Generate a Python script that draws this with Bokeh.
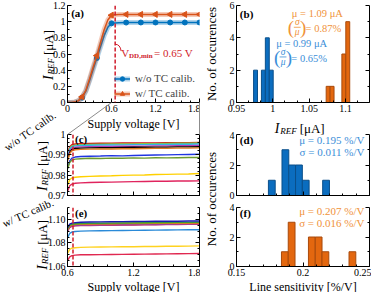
import math
from bokeh.plotting import figure
from bokeh.models import (Range1d, LinearAxis, FixedTicker, CustomJSTickFormatter,
                          Label, Span, Legend, LegendItem)
from bokeh.layouts import row, column
from bokeh.embed import file_html
from bokeh.resources import INLINE

SERIF = "Liberation Serif"
BLUE = "#0072BD"
ORANGE = "#D95319"
BAR_BLUE = "#0B6DBF"
BAR_BLUE_EDGE = "#0A4F8A"
BAR_ORANGE = "#E3670F"
BAR_ORANGE_EDGE = "#A84A0C"
RED = "#D01C2B"
TXT_BLUE = "#3B8ED8"
TXT_ORANGE = "#F0923A"
GREY = "#8C8C8C"

# ---------------- data ----------------
# (a) mean reference current vs supply voltage
v_a = [0.0, 0.05, 0.10, 0.15, 0.20, 0.25, 0.30, 0.35, 0.40, 0.45, 0.50, 0.55,
       0.60, 0.65, 0.70, 0.80, 1.00, 1.20, 1.40, 1.60, 1.80]
i_wo = [0.0, 0.0, 0.004, 0.02, 0.06, 0.14, 0.27, 0.41, 0.55, 0.69, 0.83, 0.93,
        0.98, 0.984, 0.987, 0.989, 0.99, 0.99, 0.99, 0.99, 0.99]
i_w = [0.0, 0.0, 0.005, 0.023, 0.07, 0.15, 0.29, 0.44, 0.58, 0.74, 0.90, 1.02,
       1.08, 1.085, 1.088, 1.09, 1.09, 1.09, 1.09, 1.09, 1.09]
v_mk = [0.2, 0.4, 0.6, 0.8, 1.0, 1.2, 1.4, 1.6, 1.8]
i_wo_mk = [0.06, 0.55, 0.98, 0.989, 0.99, 0.99, 0.99, 0.99, 0.99]
i_w_mk = [0.07, 0.58, 1.08, 1.09, 1.09, 1.09, 1.09, 1.09, 1.09]
v_ddmin = 0.65

# (b) histogram of I_REF [uA]
bin_w_b = 0.0054
b_wo_left = [0.9735, 0.9843, 0.9897, 0.9951]
b_wo_cnt = [2, 2, 4, 2]
b_w_left = [1.0734, 1.0788, 1.0950, 1.1004]
b_w_cnt = [1, 1, 3, 5]

# (c) / (e) per-chip I_REF vs supply voltage
v_z = [0.60, 0.62, 0.64, 0.67, 0.72, 0.80, 0.90, 1.00, 1.10, 1.20, 1.30, 1.40, 1.50, 1.60, 1.70, 1.80]
c_series = [
    ("#CC1414", [0.9905, 0.9940, 0.9950, 0.9953, 0.9955, 0.9956, 0.9957, 0.9957, 0.9958, 0.9958, 0.9959, 0.9959, 0.9960, 0.9960, 0.9960, 0.9961]),
    ("#8CC63F", [0.9895, 0.9932, 0.9944, 0.9948, 0.9950, 0.9951, 0.9952, 0.9953, 0.9953, 0.9954, 0.9955, 0.9955, 0.9956, 0.9957, 0.9957, 0.9958]),
    ("#2FB4E6", [0.9890, 0.9928, 0.9940, 0.9944, 0.9946, 0.9947, 0.9948, 0.9948, 0.9949, 0.9950, 0.9950, 0.9951, 0.9951, 0.9952, 0.9952, 0.9953]),
    ("#B23AB8", [0.9880, 0.9918, 0.9932, 0.9937, 0.9939, 0.9940, 0.9941, 0.9941, 0.9942, 0.9942, 0.9943, 0.9944, 0.9944, 0.9945, 0.9945, 0.9946]),
    ("#000000", [0.9875, 0.9912, 0.9926, 0.9931, 0.9933, 0.9934, 0.9935, 0.9935, 0.9936, 0.9937, 0.9937, 0.9938, 0.9938, 0.9939, 0.9939, 0.9940]),
    ("#E07A1F", [0.9870, 0.9906, 0.9920, 0.9925, 0.9927, 0.9928, 0.9929, 0.9929, 0.9930, 0.9930, 0.9931, 0.9932, 0.9932, 0.9933, 0.9933, 0.9934]),
    ("#1F35E0", [0.9835, 0.9870, 0.9884, 0.9889, 0.9892, 0.9893, 0.9894, 0.9896, 0.9895, 0.9897, 0.9898, 0.9899, 0.9900, 0.9901, 0.9902, 0.9903]),
    ("#6B9A2E", [0.9830, 0.9862, 0.9874, 0.9879, 0.9881, 0.9883, 0.9882, 0.9884, 0.9883, 0.9885, 0.9884, 0.9886, 0.9885, 0.9886, 0.9887, 0.9887]),
    ("#FFD000", [0.9750, 0.9778, 0.9786, 0.9790, 0.9792, 0.9794, 0.9796, 0.9797, 0.9799, 0.9800, 0.9801, 0.9803, 0.9804, 0.9805, 0.9806, 0.9808]),
    ("#E0245E", [0.9720, 0.9748, 0.9756, 0.9760, 0.9762, 0.9764, 0.9765, 0.9766, 0.9767, 0.9768, 0.9769, 0.9770, 0.9770, 0.9771, 0.9771, 0.9772]),
]
e_series = [
    ("#7E2F8E", [1.0902, 1.0933, 1.0942, 1.0946, 1.0949, 1.0950, 1.0951, 1.0952, 1.0953, 1.0954, 1.0955, 1.0956, 1.0957, 1.0958, 1.0959, 1.0960]),
    ("#C23B73", [1.0900, 1.0931, 1.0940, 1.0944, 1.0947, 1.0948, 1.0949, 1.0950, 1.0951, 1.0952, 1.0953, 1.0954, 1.0955, 1.0956, 1.0957, 1.0958]),
    ("#9B3AA8", [1.0905, 1.0936, 1.0945, 1.0949, 1.0952, 1.0953, 1.0954, 1.0955, 1.0956, 1.0957, 1.0958, 1.0959, 1.0960, 1.0961, 1.0962, 1.0963]),
    ("#E8701A", [1.0912, 1.0943, 1.0952, 1.0956, 1.0959, 1.0960, 1.0961, 1.0962, 1.0963, 1.0964, 1.0965, 1.0966, 1.0967, 1.0968, 1.0968, 1.0969]),
    ("#C8A000", [1.0915, 1.0946, 1.0955, 1.0959, 1.0962, 1.0963, 1.0964, 1.0965, 1.0966, 1.0967, 1.0968, 1.0969, 1.0970, 1.0970, 1.0971, 1.0972]),
    ("#3A9A3A", [1.0920, 1.0950, 1.0958, 1.0962, 1.0965, 1.0966, 1.0967, 1.0968, 1.0969, 1.0970, 1.0971, 1.0972, 1.0973, 1.0974, 1.0974, 1.0975]),
    ("#1A1AB0", [1.0930, 1.0960, 1.0968, 1.0972, 1.0975, 1.0977, 1.0978, 1.0979, 1.0980, 1.0981, 1.0982, 1.0983, 1.0983, 1.0984, 1.0985, 1.0986]),
    ("#2A8AD8", [1.0845, 1.0880, 1.0892, 1.0897, 1.0900, 1.0902, 1.0903, 1.0904, 1.0905, 1.0906, 1.0907, 1.0908, 1.0909, 1.0910, 1.0911, 1.0912]),
    ("#FFD21F", [1.0710, 1.0745, 1.0755, 1.0759, 1.0762, 1.0764, 1.0765, 1.0766, 1.0767, 1.0768, 1.0769, 1.0770, 1.0771, 1.0772, 1.0773, 1.0775]),
    ("#E02850", [1.0650, 1.0682, 1.0692, 1.0696, 1.0699, 1.0700, 1.0701, 1.0702, 1.0703, 1.0704, 1.0705, 1.0706, 1.0707, 1.0708, 1.0709, 1.0710]),
]

# (d) / (f) line sensitivity histograms [%/V]
bin_w_ls = 0.0051
d_left = [0.1740, 0.1842, 0.1893, 0.1944, 0.1995, 0.2148]
d_cnt = [1, 3, 2, 2, 1, 1]
f_left = [0.1838, 0.1889, 0.2041, 0.2092, 0.2143, 0.2346]
f_cnt = [1, 3, 2, 2, 1, 1]

stat_b_w = ("μ = 1.09 μA", "= 0.87%")
stat_b_wo = ("μ = 0.99 μA", "= 0.65%")
stat_d = ("μ = 0.195 %/V", "σ = 0.011 %/V")
stat_f = ("μ = 0.207 %/V", "σ = 0.016 %/V")


# ---------------- helpers ----------------
def RX(x):
    return 8 + (x - 2) * 0.981


def RY(y):
    return 8 + y * 0.9733


class Panel:
    def __init__(self, x0, y0, w, h, bl, br, bt, bb, xr, yr):
        self.FL = x0 + bl
        self.FR = x0 + w - br
        self.FT = y0 + bt
        self.FB = y0 + h - bb
        self.xr, self.yr = xr, yr
        p = figure(width=w, height=h, x_range=Range1d(*xr), y_range=Range1d(*yr),
                   x_axis_type=None, y_axis_type=None, title=None,
                   output_backend="svg", toolbar_location=None,
                   min_border_left=bl, min_border_right=br,
                   min_border_top=bt, min_border_bottom=bb)
        p.outline_line_color = None
        p.background_fill_color = "white"
        p.border_fill_color = "white"
        self.p = p

    def dx(self, px):
        return self.xr[0] + (px - self.FL) / (self.FR - self.FL) * (self.xr[1] - self.xr[0])

    def dy(self, py):
        return self.yr[0] + (self.FB - py) / (self.FB - self.FT) * (self.yr[1] - self.yr[0])


def add_axis(pan, side, ticks, minor, show=True, fmt="return tick.toString();"):
    ax = LinearAxis(ticker=FixedTicker(ticks=ticks, minor_ticks=minor),
                    formatter=CustomJSTickFormatter(code=fmt))
    ax.axis_line_color = "black"
    ax.axis_line_width = 1
    ax.major_tick_in = 4
    ax.major_tick_out = 0
    ax.minor_tick_in = 2
    ax.minor_tick_out = 0
    ax.major_tick_line_color = "black"
    ax.minor_tick_line_color = "black"
    ax.major_label_text_font = SERIF
    if show:
        ax.major_label_text_color = "black"
        ax.major_label_text_font_size = "10px"
        ax.major_label_standoff = 2
    else:
        ax.major_label_text_color = None
        ax.major_label_text_font_size = "1px"
        ax.major_label_standoff = 0
    pan.p.add_layout(ax, side)


def lab(pan, px, py, text, size, color="black", style="normal", align="left",
        baseline="alphabetic", angle=0.0):
    pan.p.add_layout(Label(x=pan.dx(px), y=pan.dy(py), text=text, angle=angle,
                           text_font=SERIF, text_font_size=f"{size}px",
                           text_color=color, text_font_style=style,
                           text_align=align, text_baseline=baseline))


def frange(start, step, n):
    return [round(start + k * step, 6) for k in range(n)]


# ---------------- panels ----------------
a = Panel(8, 8, 200, 116, 67, 1, 5, 14, (0.0, 1.8), (0.0, 1.2))
c = Panel(8, 124, 200, 85, 67, 1, 18, 6, (0.6, 1.8), (0.97, 1.0))
e = Panel(8, 209, 200, 91, 67, 1, 6, 26, (0.6, 1.8), (1.06, 1.11))
b = Panel(208, 8, 171, 131, 36, 2, 5, 29, (0.95, 1.133), (0.0, 6.0))
d = Panel(208, 139, 171, 70, 36, 2, 3, 6, (0.15, 0.25), (0.0, 4.0))
f = Panel(208, 209, 171, 91, 36, 2, 6, 26, (0.15, 0.25), (0.0, 4.0))

# overlay canvas covering the whole page area (page pixel coordinates)
ov = figure(width=371, height=292, x_range=Range1d(8, 379), y_range=Range1d(300, 8),
            x_axis_type=None, y_axis_type=None, title=None,
            output_backend="svg", toolbar_location=None,
            min_border_left=0, min_border_right=0, min_border_top=0, min_border_bottom=0,
            margin=(-292, 0, 0, 0))
ov.outline_line_color = None
ov.background_fill_color = None
ov.border_fill_color = None


def olab(px, py, text, size, color="black", style="normal", align="left",
         baseline="alphabetic", angle=0.0):
    ov.add_layout(Label(x=px, y=py, text=text, angle=angle,
                        text_font=SERIF, text_font_size=f"{size}px",
                        text_color=color, text_font_style=style,
                        text_align=align, text_baseline=baseline))


def iref_vertical(cx, cy):
    wI, wR, wU = 4.9, 16.5, 27.0
    L = wI + 0.6 + wR + 3 + wU
    bx = cx + 4.5
    y = cy + L / 2
    olab(bx, y, "I", 14, style="italic", angle=math.pi / 2)
    y -= wI + 0.6
    olab(bx + 3, y, "REF", 9, style="italic", angle=math.pi / 2)
    y -= wR + 3
    olab(bx, y, "[μA]", 13, angle=math.pi / 2)


def iref_horizontal(cx, cy):
    wI, wR, wU = 4.9, 16.5, 27.0
    L = wI + 0.6 + wR + 3 + wU
    x = cx - L / 2
    by = cy + 4
    olab(x, by, "I", 14, style="italic")
    x += wI + 0.6
    olab(x, by + 3, "REF", 9, style="italic")
    x += wR + 3
    olab(x, by, "[μA]", 13)


# ---- (a)
add_axis(a, "below", [0, 0.6, 1.2, 1.8], frange(0, 0.12, 16))
add_axis(a, "left", [0, 0.2, 0.4, 0.6, 0.8, 1, 1.2], frange(0, 0.1, 13))
a.p.add_layout(Span(location=v_ddmin, dimension="height", line_color=RED,
                    line_dash="4 2", line_width=1.5))
rb1 = a.p.line(v_a, i_wo, line_color=BLUE, line_width=5, line_alpha=0.3)
rl1 = a.p.line(v_a, i_wo, line_color=BLUE, line_width=1.5)
rm1 = a.p.scatter(v_mk, i_wo_mk, marker="circle", size=5, fill_color=BLUE, line_color=BLUE)
rb2 = a.p.line(v_a, i_w, line_color=ORANGE, line_width=5, line_alpha=0.3)
rl2 = a.p.line(v_a, i_w, line_color=ORANGE, line_width=1.5)
rm2 = a.p.scatter(v_mk, i_w_mk, marker="triangle", angle=math.pi / 2, size=6,
                  fill_color=ORANGE, line_color=ORANGE)
leg = Legend(items=[LegendItem(label="w/o TC calib.", renderers=[rb1, rl1, rm1]),
                    LegendItem(label="w/ TC calib.", renderers=[rb2, rl2, rm2])],
             location=(47, 3))
leg.label_text_font = SERIF
leg.label_text_font_size = "11px"
leg.label_height = 11
leg.glyph_height = 11
leg.glyph_width = 16
leg.label_standoff = 5
leg.spacing = 3
leg.padding = 2
leg.margin = 0
leg.border_line_color = None
leg.background_fill_alpha = 0
a.p.add_layout(leg)
lab(a, RX(74), RY(13), "(a)", 11, style="bold", baseline="middle")
vx = RX(125)
vy = RY(50) + 4
lab(a, vx, vy, "V", 11, color=RED)
lab(a, vx + 7.9, vy + 3, "DD,min", 7, color=RED, style="bold")
lab(a, vx + 7.9 + 25, vy, "= 0.65 V", 11, color=RED)

# ---- (c)
add_axis(c, "below", [0.6, 1.2, 1.8], frange(0.6, 0.12, 11), show=False)
add_axis(c, "left", [0.97, 0.98, 0.99, 1.0], frange(0.97, 0.002, 16))
add_axis(c, "right", [0.97, 0.98, 0.99, 1.0], frange(0.97, 0.002, 16), show=False)
for col, vals in c_series:
    c.p.line(v_z, vals, line_color=col, line_width=1.4)
c.p.add_layout(Span(location=v_ddmin, dimension="height", line_color=RED,
                    line_dash="4 2", line_width=1.5))
lab(c, RX(78), c.FT + 4, "(c)", 11, style="bold", baseline="middle")

# ---- (e)
add_axis(e, "below", [0.6, 1.2, 1.8], frange(0.6, 0.12, 11))
add_axis(e, "left", [1.06, 1.08, 1.10], frange(1.06, 0.005, 11), fmt="return tick.toFixed(2);")
add_axis(e, "right", [1.06, 1.08, 1.10], frange(1.06, 0.005, 11), show=False)
for col, vals in e_series:
    e.p.line(v_z, vals, line_color=col, line_width=1.4)
e.p.add_layout(Span(location=v_ddmin, dimension="height", line_color=RED,
                    line_dash="4 2", line_width=1.5))
lab(e, RX(78), e.FT + 5, "(e)", 11, style="bold", baseline="middle")

# ---- (b)
add_axis(b, "below", [0.95, 1.0, 1.05, 1.1], frange(0.95, 0.05 / 3, 12))
add_axis(b, "left", [0, 2, 4, 6], [1, 3, 5])
add_axis(b, "right", [0, 2, 4, 6], [1, 3, 5], show=False)
b.p.quad(left=b_wo_left, right=[x + bin_w_b for x in b_wo_left], bottom=0, top=b_wo_cnt,
         fill_color=BAR_BLUE, line_color=BAR_BLUE_EDGE, line_width=1)
b.p.quad(left=b_w_left, right=[x + bin_w_b for x in b_w_left], bottom=0, top=b_w_cnt,
         fill_color=BAR_ORANGE, line_color=BAR_ORANGE_EDGE, line_width=1)
lab(b, RX(246), RY(14), "(b)", 11, style="bold", baseline="middle")
# orange stats
lab(b, RX(299), RY(13.5), stat_b_w[0], 10.5, color=TXT_ORANGE, baseline="middle")
lab(b, RX(298), RY(28), "(", 19, color=TXT_ORANGE, align="center", baseline="middle")
lab(b, RX(304.5), RY(22.5), "σ", 9.5, color=TXT_ORANGE, style="italic", align="center", baseline="middle")
lab(b, RX(304.5), RY(32.5), "μ", 9.5, color=TXT_ORANGE, style="italic", align="center", baseline="middle")
lab(b, RX(310.5), RY(28), ")", 19, color=TXT_ORANGE, align="center", baseline="middle")
lab(b, RX(313), RY(28.5), stat_b_w[1], 10.5, color=TXT_ORANGE, baseline="middle")
# blue stats
lab(b, RX(283), RY(44), stat_b_wo[0], 10.5, color=TXT_BLUE, baseline="middle")
lab(b, RX(284), RY(58.5), "(", 19, color=TXT_BLUE, align="center", baseline="middle")
lab(b, RX(290), RY(53), "σ", 9.5, color=TXT_BLUE, style="italic", align="center", baseline="middle")
lab(b, RX(290), RY(63), "μ", 9.5, color=TXT_BLUE, style="italic", align="center", baseline="middle")
lab(b, RX(296), RY(58.5), ")", 19, color=TXT_BLUE, align="center", baseline="middle")
lab(b, RX(298.5), RY(59.5), stat_b_wo[1], 10.5, color=TXT_BLUE, baseline="middle")

# ---- (d)
add_axis(d, "below", [0.15, 0.2, 0.25], frange(0.15, 0.01, 11), show=False)
add_axis(d, "left", [0, 2, 4], [1, 3])
add_axis(d, "right", [0, 2, 4], [1, 3], show=False)
d.p.quad(left=d_left, right=[x + bin_w_ls for x in d_left], bottom=0, top=d_cnt,
         fill_color=BAR_BLUE, line_color=BAR_BLUE_EDGE, line_width=1)
lab(d, RX(246), d.FT + 5, "(d)", 11, style="bold", baseline="middle")
lab(d, RX(373), RY(143), stat_d[0], 11, color=TXT_BLUE, align="right", baseline="middle")
lab(d, RX(373), RY(155.5), stat_d[1], 11, color=TXT_BLUE, align="right", baseline="middle")

# ---- (f)
add_axis(f, "below", [0.15, 0.2, 0.25], frange(0.15, 0.01, 11))
add_axis(f, "left", [0, 2, 4], [1, 3])
add_axis(f, "right", [0, 2, 4], [1, 3], show=False)
f.p.quad(left=f_left, right=[x + bin_w_ls for x in f_left], bottom=0, top=f_cnt,
         fill_color=BAR_ORANGE, line_color=BAR_ORANGE_EDGE, line_width=1)
lab(f, RX(246), f.FT + 5, "(f)", 11, style="bold", baseline="middle")
lab(f, RX(373), RY(216.5), stat_f[0], 11, color=TXT_ORANGE, align="right", baseline="middle")
lab(f, RX(373), RY(229), stat_f[1], 11, color=TXT_ORANGE, align="right", baseline="middle")

# ---- overlay: texts and guides outside the plot frames
a_x06 = a.FL + 0.6 / 1.8 * (a.FR - a.FL)
ov.segment(x0=[a_x06, a.FR], y0=[a.FB, a.FB], x1=[c.FL, c.FR], y1=[c.FT, c.FT],
           line_color=GREY, line_width=1)
# fraction bars in (b)
ov.segment(x0=[RX(301), RX(286.5)], y0=[RY(27.5), RY(58)], x1=[RX(308), RX(293.5)],
           y1=[RY(27.5), RY(58)], line_color=[TXT_ORANGE, TXT_BLUE], line_width=0.8)
# small leader hook from the V_DD,min line to its label
ov.quadratic(x0=[RX(119)], y0=[RY(45)], x1=[RX(125)], y1=[RY(52)], cx=[RX(124)], cy=[RY(45)],
             line_color=RED, line_width=1)
iref_vertical(RX(46), (a.FT + a.FB) / 2)
iref_vertical(RX(40), (c.FT + c.FB) / 2)
iref_vertical(RX(40), RY(250))
olab((a.FL + a.FR) / 2, RY(126.5), "Supply voltage [V]", 12, align="center", baseline="middle")
olab((e.FL + e.FR) / 2, 294, "Supply voltage [V]", 12, align="center", baseline="middle")
olab(RX(32), RY(134), "w/o TC calib.", 11, align="center", baseline="middle", angle=math.radians(35))
olab(RX(30), RY(218), "w/ TC calib.", 11, align="center", baseline="middle", angle=math.radians(24))
olab(218.5, (b.FT + b.FB) / 2, "No. of occurences", 13, align="center", angle=math.pi / 2)
olab(218.5, RY(204), "No. of occurences", 13, align="center", angle=math.pi / 2)
iref_horizontal(RX(308), RY(127))
olab((f.FL + f.FR) / 2, 294, "Line sensitivity [%/V]", 12, align="center", baseline="middle")

grid = row(column(a.p, c.p, e.p), column(b.p, d.p, f.p))
layout = column(grid, ov)
open("out.html", "w").write(file_html(layout, INLINE))
